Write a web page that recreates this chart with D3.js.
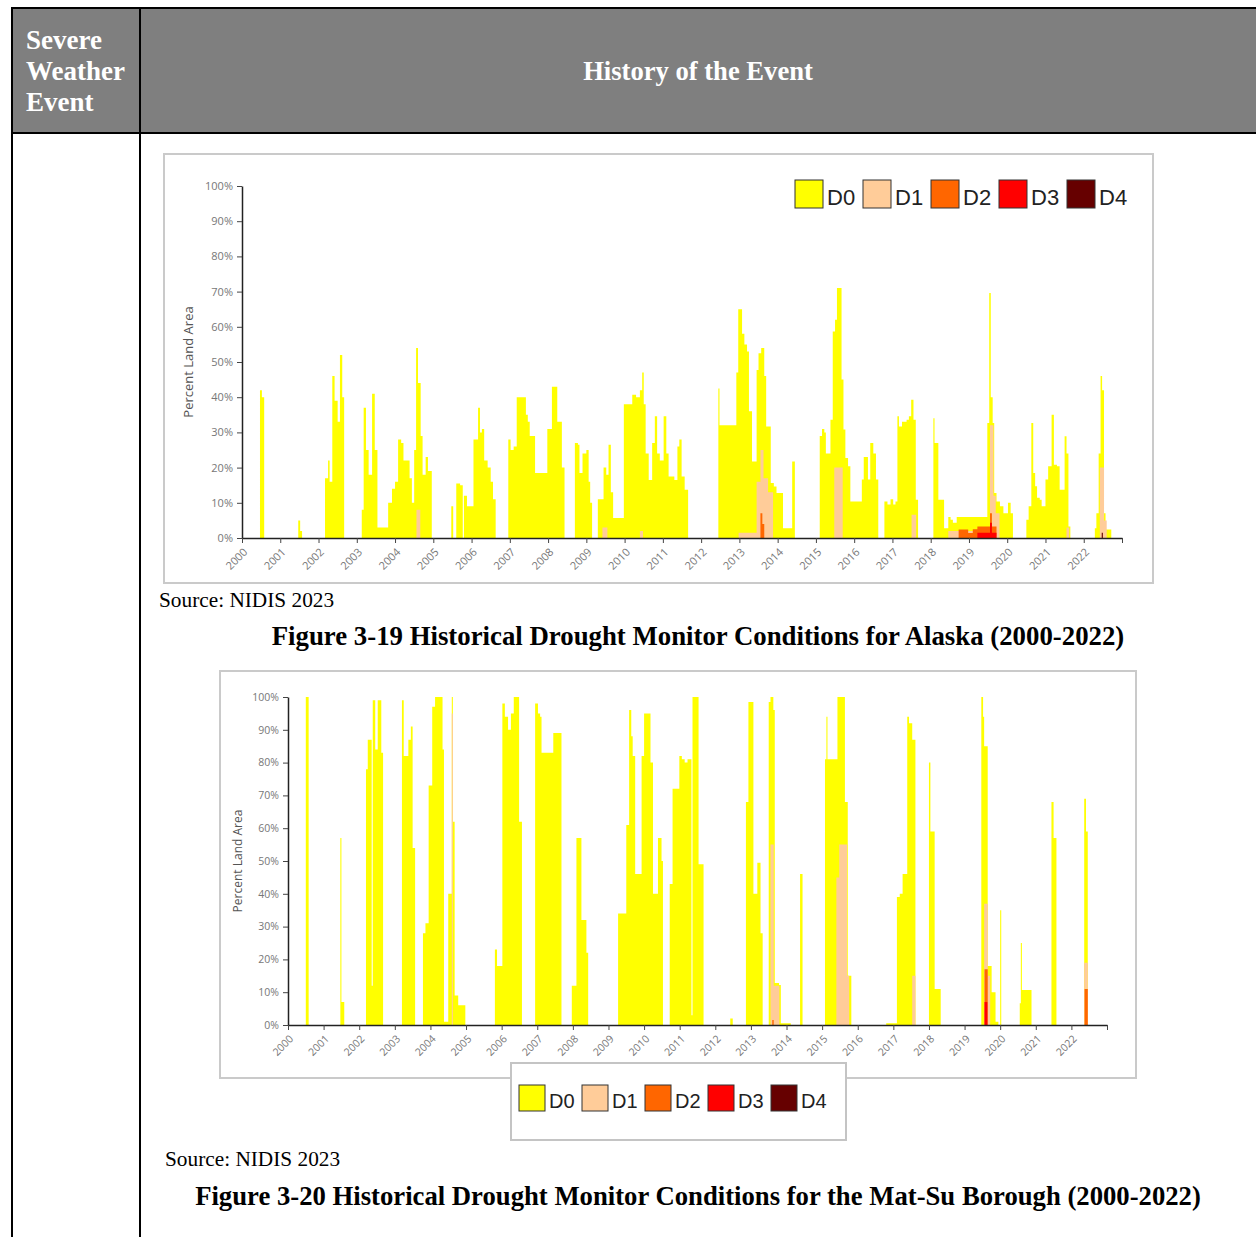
<!DOCTYPE html>
<html><head><meta charset="utf-8">
<script src="https://cdn.jsdelivr.net/npm/d3@7/dist/d3.min.js"></script>
<style>body{margin:0;background:#fff}svg{display:block}</style>
</head><body>
<svg id="page" width="1256" height="1237"></svg>
<script>
// ---------------- DATA ----------------
const categories = ["D0", "D1", "D2", "D3", "D4"];
const catColors = ["#ffff00", "#ffcc99", "#ff6600", "#ff0000", "#660000"];
const yearTicks = d3.range(2000, 2024);
const yTickValues = [0,10,20,30,40,50,60,70,80,90,100];

// Alaska - cumulative percent area (D0 = D0-D4, D1 = D1-D4, ...)
const akD0Date = [2000.47,2000.52,2000.58, 2001.47,2001.52,2001.57,
 2002.17,2002.25,2002.29,2002.36,2002.42,2002.5,2002.56,2002.62,2002.67,
 2003.13,2003.18,2003.24,2003.31,2003.4,2003.47,2003.54,2003.82,2003.92,2004.0,2004.08,2004.16,2004.22,2004.33,2004.38,2004.44,2004.5,2004.55,2004.6,2004.67,2004.72,2004.8,2004.86,2004.96,
 2005.47,2005.52, 2005.6,2005.7,2005.77,
 2005.8,2005.88,2006.05,2006.17,2006.22,2006.27,2006.33,2006.42,2006.5,2006.56,2006.63,
 2006.96,2007.02,2007.1,2007.18,2007.42,2007.47,2007.52,2007.66,2007.98,2008.1,2008.24,2008.36,2008.43,
 2008.7,2008.78,2008.82,2008.9,2009.0,2009.06,2009.1,2009.15,
 2009.3,2009.45,2009.52,2009.58,2009.64,2009.7,2009.98,2010.2,2010.3,2010.4,2010.46,2010.5,2010.55,2010.63,2010.72,2010.79,2010.85,2010.92,2011.02,2011.09,2011.15,2011.3,2011.38,2011.43,2011.49,2011.57,2011.66,
 2012.45,2012.48,2012.92,2012.97,2013.07,2013.13,2013.2,2013.25,2013.33,2013.45,2013.5,2013.57,2013.65,2013.7,2013.82,2013.9,2013.97,2014.14,2014.38,2014.45,
 2015.1,2015.16,2015.22,2015.26,2015.38,2015.44,2015.5,2015.55,2015.67,2015.72,2015.77,2015.84,2015.9,2016.2,2016.25,2016.36,2016.42,2016.5,2016.57,2016.63,
 2016.79,2016.87,2016.95,2017.02,2017.08,2017.13,2017.17,2017.25,2017.37,2017.43,2017.49,2017.55,2017.61,2017.67,
 2018.07,2018.1,2018.2,2018.35,2018.46,2018.52,2018.58,2018.68,2019.48,2019.53,2019.57,2019.62,2019.66,2019.72,2019.81,2019.9,2020.02,2020.09,2020.15,
 2020.5,2020.56,2020.63,2020.68,2020.73,2020.78,2020.85,2020.9,2021.0,2021.07,2021.16,2021.22,2021.3,2021.37,2021.5,2021.55,2021.6,2021.65,
 2022.29,2022.33,2022.39,2022.44,2022.48,2022.53,2022.57,2022.72];
const akD0 = [42,40,0, 5,2,0,
 17,22,16,46,39,33,52,40,0,
 8,37,25,18,41,25,3,10,14,16,28,27,22,22,17,10,25,54,44,29,18,23,19,0,
 9,0, 15.5,15,0,
 12,9,28,37,30,31,22,20,16,11,0,
 28,25,26,40,35,33,29,18.5,31,43,33,20,0,
 27,26.5,18.5,24,25,16,10,0,
 11,20,18,26.5,13,5.7,38,40.7,40,42,47,38,24,16.5,27,34.6,24,22,34.6,24,17.5,16.5,26,28,17.5,13.7,0,
 42.5,32,47,65,58,55,53,36,21.7,47.7,52.5,54,46,31.7,15.6,14.6,12.8,2.8,21.7,0,
 29,31,30,24,33.6,58.7,62,71,45,30.8,22.7,20.4,10.4,16.6,23,16.6,27,24,16.6,0,
 10.4,9.5,11,9.5,10.4,34.6,31.7,33,33.6,34.6,39.3,33.6,10.9,0,
 34,27,10.9,2.8,6,5.2,4.3,6,32.7,69.6,40,32.7,12.8,10.4,9,7,10,7,0,
 5.2,9,32.7,18.5,14.7,11.4,10.9,9,16.6,20.4,35,20.8,20.4,13.7,28.9,24,3.3,0,
 2.8,7,24,46,42,7,2.4,0];
const akD1Date = [2004.56,2004.66, 2009.42,2009.55, 2010.4,2010.48, 2012.98,2013.45,2013.55,2013.63,2013.75,2013.88, 2015.48,2015.7, 2017.5,2017.62, 2018.46,2019.55,2019.64,2019.7,2019.8, 2021.55,2021.62, 2022.42,2022.53,2022.6];
const akD1 = [8,0, 3,0, 2,0, 1.5,16,25,17,13,0, 20,0, 6.6,0, 2,32,12,7,0, 3,0, 20,5,0];
const akD2Date = [2013.55,2013.6,2013.65, 2018.73,2018.98,2019.1,2019.22,2019.55,2019.6,2019.72];
const akD2 = [7,4,0, 2.4,1.4,2.5,3.3,7,3.3,0];
const akD3Date = [2019.22,2019.55,2019.6,2019.72];
const akD3 = [1.5,4.3,1.5,0];
const akD4Date = [2022.47,2022.5];
const akD4 = [1.5,0];

// Mat-Su Borough
const msD0Date = [2000.5,2000.58, 2001.47,2001.5,2001.58,
 2002.19,2002.24,2002.35,2002.38,2002.45,2002.52,2002.62,2002.67,
 2003.2,2003.25,2003.38,2003.45,2003.5,2003.57,
 2003.79,2003.86,2003.95,2004.05,2004.13,2004.34,2004.38,2004.5,2004.6,2004.63,2004.68,2004.78,2004.98,
 2005.81,2005.87,2006.02,2006.09,2006.18,2006.26,2006.34,2006.49,2006.57,
 2006.94,2007.02,2007.08,2007.12,2007.45,2007.68,
 2007.97,2008.1,2008.24,2008.38,2008.43,
 2009.27,2009.5,2009.58,2009.64,2009.68,2009.75,2009.93,2010.0,2010.18,2010.25,2010.39,2010.49,2010.53,
 2010.72,2010.8,2010.99,2011.06,2011.14,2011.22,2011.33,2011.36,2011.53,2011.67,
 2012.42,2012.49,
 2012.86,2012.93,2013.07,2013.18,2013.27,2013.33,
 2013.5,2013.55,2013.63,2013.67,2013.79,2013.84,2014.12,
 2014.38,2014.45,
 2015.08,2015.12,2015.15,2015.43,2015.64,2015.72,2015.82,
 2016.8,2017.1,2017.18,2017.26,2017.39,2017.44,2017.53,2017.62,
 2018.0,2018.04,2018.16,2018.33,
 2019.47,2019.52,2019.55,2019.65,2019.76,2019.87,2019.95,2020.0,2020.03,
 2020.55,2020.58,2020.61,2020.88,
 2021.44,2021.5,2021.58,
 2022.36,2022.41,2022.46];
const msD0 = [100,0, 57,7,0,
 78,87,12,99,84,99,83,0,
 99,82,87,91,54,0,
 28,31,73,97,100,84,1,40,100,62,9,6,0,
 23,18,98,94,90,95,100,62,0,
 98,95,94,83,89,0,
 12,57,32,22,0,
 34,61,96,88,82,46,82,95,80,40,57,50,0,
 43,72,82,81,80,81,3,100,49,0,
 2,0,
 68,98.5,40,49.5,28,0,
 98.5,100,96,12.8,12.2,0.5,0,
 46,0,
 81,94,81,100,68,15,0,
 0.5,39,40,46,94,92,87,0,
 80,59,11,0,
 100,94,85,18,10,1,0,35,0,
 6.6,25,10.7,0,
 68,57,0,
 69,59,0];
const msD1Date = [2004.6,2004.63, 2013.55,2013.64,2013.8, 2015.4,2015.48,2015.7,2015.76, 2017.53,2017.62, 2019.55,2019.65,2019.72, 2022.36,2022.46];
const msD1 = [95,0, 55,12,0, 45,55,15,0, 15,0, 37,15,0, 19,0];
const msD2Date = [2013.6,2013.64, 2019.56,2019.65, 2022.37,2022.46];
const msD2 = [1.5,0, 17,0, 11,0];
const msD3Date = [2019.56,2019.64];
const msD3 = [7,0];
const msD4Date = [];
const msD4 = [];

// ---------------- DRAW ----------------
const SERIF = "'Liberation Serif','Times New Roman',Times,serif";
const SANS = "'Open Sans','Noto Sans',sans-serif";
const ARIAL = "'Liberation Sans',Arial,sans-serif";
const svg = d3.select("#page");

// table
svg.append("rect").attr("x",12).attr("y",8).attr("width",1250).attr("height",125).attr("fill","#7f7f7f");
const lines = [[12,8,1262,8],[12,133,1262,133],[12,7,12,1237],[140,7,140,1237]];
svg.selectAll("line.tb").data(lines).join("line").attr("class","tb")
  .attr("x1",d=>d[0]).attr("y1",d=>d[1]).attr("x2",d=>d[2]).attr("y2",d=>d[3])
  .attr("stroke","#000").attr("stroke-width",2);
const hdr = svg.append("text").attr("font-family",SERIF).attr("font-weight","bold")
  .attr("font-size",27).attr("fill","#fff");
["Severe","Weather","Event"].forEach((t,i)=>hdr.append("tspan").attr("x",26).attr("y",49+i*31).text(t));
svg.append("text").attr("x",698).attr("y",80).attr("text-anchor","middle")
  .attr("font-family",SERIF).attr("font-weight","bold").attr("font-size",26.6).attr("fill","#fff")
  .text("History of the Event");

function drawChart(o) {
  const g = svg.append("g");
  g.append("rect").attr("x",o.frame[0]).attr("y",o.frame[1]).attr("width",o.frame[2]).attr("height",o.frame[3])
    .attr("fill","#fff").attr("stroke","#cacaca").attr("stroke-width",2);
  const x = d3.scaleLinear().domain([2000,2023]).range([o.x0,o.x1]);
  const y = d3.scaleLinear().domain([0,100]).range([o.yBase,o.yTop]);
  const area = d3.area().curve(d3.curveStepAfter)
    .x(d=>x(d[0])).y0(y(0)).y1(d=>y(d[1]));
  o.series.forEach((s,i)=>{
    const pts = s[0].map((t,j)=>[t,s[1][j]]);
    if (pts.length) g.append("path").attr("d",area(pts)).attr("fill",catColors[i]);
  });
  // y axis
  const ya = g.append("g").attr("transform",`translate(${o.x0},0)`)
    .call(d3.axisLeft(y).tickValues(yTickValues).tickFormat(d=>d+"%").tickSize(5).tickSizeOuter(0).tickPadding(4));
  ya.select(".domain").attr("stroke","#222").attr("stroke-width",1.5);
  ya.selectAll(".tick line").attr("stroke","#444");
  ya.selectAll(".tick text").attr("fill","#777").attr("font-family",SANS).attr("font-size",o.tickFont);
  // x axis
  const xa = g.append("g").attr("transform",`translate(0,${o.yBase})`)
    .call(d3.axisBottom(x).tickValues(yearTicks).tickFormat(d=>d<2023?d:"").tickSize(5).tickSizeOuter(0));
  xa.select(".domain").attr("stroke","#222").attr("stroke-width",1.5);
  xa.selectAll(".tick line").attr("stroke","#444");
  xa.selectAll(".tick text").attr("fill","#777").attr("font-family",SANS).attr("font-size",o.tickFont)
    .attr("x",0).attr("y",0).attr("dy","0.35em").attr("text-anchor","end")
    .attr("transform","translate(3,12) rotate(-45)");
  // y label
  g.append("text").attr("transform",`translate(${o.yLab[0]},${o.yLab[1]}) rotate(-90)`)
    .attr("text-anchor","middle").attr("dy","0.35em").attr("font-family",SANS)
    .attr("font-size",o.labFont).attr("fill","#555").text("Percent Land Area");
  // legend
  const lg = g.append("g");
  if (o.legBox) lg.append("rect").attr("x",o.legBox[0]).attr("y",o.legBox[1]).attr("width",o.legBox[2]).attr("height",o.legBox[3])
    .attr("fill","#fff").attr("stroke","#c4c4c4").attr("stroke-width",2);
  const items = lg.selectAll("g.it").data(categories).join("g").attr("class","it")
    .attr("transform",(d,i)=>`translate(${o.leg[0]+i*o.leg[2]},${o.leg[1]})`);
  items.append("rect").attr("width",o.sw).attr("height",o.sw).attr("fill",(d,i)=>catColors[i])
    .attr("stroke","#333").attr("stroke-width",1);
  items.append("text").attr("x",o.sw+4).attr("y",o.sw-3).attr("font-family",ARIAL)
    .attr("font-size",o.legFont).attr("fill","#222").text(d=>d);
}

drawChart({frame:[164,154,989,429], x0:242, x1:1122, yBase:538, yTop:186,
  series:[[akD0Date,akD0],[akD1Date,akD1],[akD2Date,akD2],[akD3Date,akD3],[akD4Date,akD4]],
  tickFont:11, labFont:13, yLab:[188,362], leg:[795,180,68], sw:28, legFont:22});

drawChart({frame:[220,671,916,407], x0:288, x1:1107, yBase:1025, yTop:697,
  series:[[msD0Date,msD0],[msD1Date,msD1],[msD2Date,msD2],[msD3Date,msD3],[msD4Date,msD4]],
  tickFont:10.5, labFont:12, yLab:[238,861], leg:[519,1085,63], sw:26, legFont:20,
  legBox:[511,1063,335,77]});

// sources and captions
svg.append("text").attr("x",159).attr("y",607).attr("font-family",SERIF).attr("font-size",21.3).text("Source: NIDIS 2023");
svg.append("text").attr("x",698).attr("y",645).attr("text-anchor","middle").attr("font-family",SERIF)
  .attr("font-weight","bold").attr("font-size",26.8).text("Figure 3-19 Historical Drought Monitor Conditions for Alaska (2000-2022)");
svg.append("text").attr("x",165).attr("y",1166).attr("font-family",SERIF).attr("font-size",21.3).text("Source: NIDIS 2023");
svg.append("text").attr("x",698).attr("y",1205).attr("text-anchor","middle").attr("font-family",SERIF)
  .attr("font-weight","bold").attr("font-size",26.7).text("Figure 3-20 Historical Drought Monitor Conditions for the Mat-Su Borough (2000-2022)");
</script>
</body></html>
